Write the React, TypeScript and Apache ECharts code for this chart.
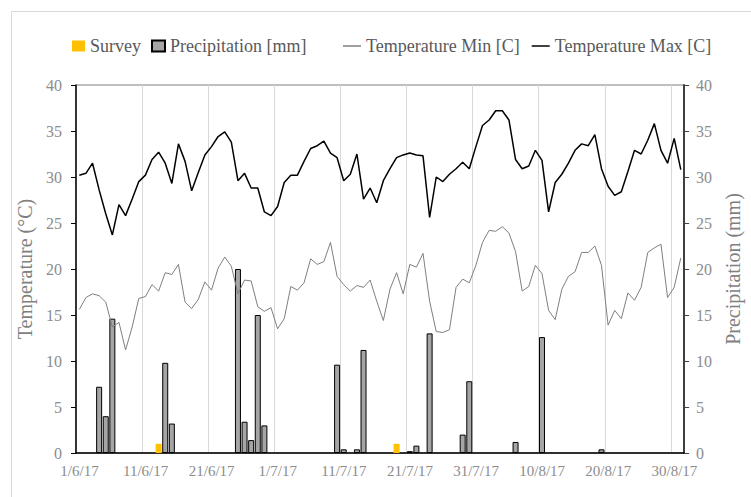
import React, { useEffect, useRef } from 'react';
import * as echarts from 'echarts';

// Daily series, 1 June 2017 to 31 August 2017 (92 days), index 0 = 1/6/17
const xTickLabels = ['1/6/17', '11/6/17', '21/6/17', '1/7/17', '11/7/17', '21/7/17', '31/7/17', '10/8/17', '20/8/17', '30/8/17'];
const dayCount = 92;

const tempMax = [
  30.2, 30.4, 31.5, 28.6, 26.0, 23.7, 27.0, 25.8, 27.6, 29.5,
  30.2, 31.9, 32.7, 31.5, 29.3, 33.6, 31.7, 28.5, 30.5, 32.4,
  33.3, 34.4, 34.9, 33.8, 29.6, 30.4, 28.8, 28.8, 26.2, 25.8,
  26.8, 29.4, 30.2, 30.2, 31.7, 33.1, 33.4, 33.9, 32.6, 32.1,
  29.6, 30.3, 32.5, 27.6, 28.8, 27.2, 29.6, 30.9, 32.1, 32.4,
  32.6, 32.4, 32.3, 25.6, 30.0, 29.5, 30.3, 30.9, 31.6, 30.9,
  33.3, 35.6, 36.2, 37.2, 37.2, 36.2, 31.9, 30.9, 31.2, 32.9,
  31.8, 26.2, 29.4, 30.3, 31.5, 32.9, 33.6, 33.4, 34.6, 30.9,
  29.0, 28.0, 28.4, 30.6, 32.9, 32.5, 34.0, 35.8, 32.9, 31.5,
  34.2, 30.8,
];

const tempMin = [
  15.6, 16.9, 17.3, 17.1, 16.4, 13.7, 14.2, 11.2, 13.7, 16.8,
  17.0, 18.3, 17.6, 19.6, 19.4, 20.5, 16.4, 15.7, 16.7, 18.6,
  17.7, 20.1, 21.3, 20.3, 17.3, 18.8, 18.7, 15.9, 15.4, 15.8,
  13.5, 14.6, 18.1, 17.7, 18.5, 21.1, 20.5, 20.8, 22.9, 19.2,
  18.3, 17.6, 18.2, 18.0, 18.8, 16.5, 14.4, 17.8, 19.6, 17.3,
  20.5, 20.2, 21.7, 16.5, 13.2, 13.1, 13.4, 18.0, 18.9, 18.5,
  20.4, 22.9, 24.2, 24.1, 24.6, 23.9, 21.9, 17.6, 18.1, 20.4,
  19.5, 15.5, 14.5, 17.8, 19.2, 19.7, 21.8, 21.8, 22.5, 20.4,
  13.9, 15.5, 14.6, 17.4, 16.6, 18.0, 21.8, 22.3, 22.7, 16.9,
  18.0, 21.2,
];

// Rainy days (day index) and their precipitation in mm
const precipDays = [3, 4, 5, 13, 14, 24, 25, 26, 27, 28, 39, 40, 42, 43, 50, 51, 53, 58, 59, 66, 70, 79];
const precipValues = [7.2, 4.0, 14.6, 9.8, 3.2, 20.0, 3.4, 1.4, 15.0, 3.0, 9.6, 0.4, 0.4, 11.2, 0.2, 0.8, 13.0, 2.0, 7.8, 1.2, 12.6, 0.4];

// Survey days
const surveyDays = [12, 48];
const surveyValues = [1, 1];

const FONT = "'Liberation Serif', 'DejaVu Serif', serif";
const LABEL_GREY = '#8c8c8c';
const TEXT_GREY = '#595959';

export default function App() {
  const ref = useRef<HTMLDivElement>(null);

  useEffect(() => {
    if (!ref.current) return;
    const chart = echarts.init(ref.current, undefined, { renderer: 'svg' });

    // each value sits in the middle of its day slot
    const atDay = (d: number) => d + 0.5;

    const axisLabel = { color: LABEL_GREY, fontFamily: FONT, fontSize: 16 };
    const legendText = { color: TEXT_GREY, fontFamily: FONT, fontSize: 18 };
    const axisTitle = { color: '#7f7f7f', fontFamily: FONT, fontSize: 20 };

    chart.setOption({
      animation: false,
      backgroundColor: '#ffffff',
      graphic: [
        {
          type: 'rect',
          left: 9,
          top: 9,
          z: -10,
          shape: { x: 0, y: 0, width: 800, height: 600 },
          style: { fill: 'none', stroke: '#d9d9d9', lineWidth: 1 },
          silent: true,
        },
      ],
      legend: [
        {
          data: ['Survey', 'Precipitation [mm]'],
          left: 67,
          top: 32,
          icon: 'rect',
          itemWidth: 13,
          itemHeight: 11,
          itemGap: 10,
          textStyle: legendText,
        },
        {
          data: ['Temperature Min [C]', 'Temperature Max [C]'],
          left: 338,
          top: 32,
          icon: 'rect',
          itemWidth: 18,
          itemHeight: 1.5,
          itemGap: 12,
          textStyle: legendText,
        },
      ],
      grid: {
        left: 76,
        right: 51,
        top: 85,
        bottom: 44,
        show: true,
        borderColor: '#7f7f7f',
        borderWidth: 1,
        backgroundColor: 'transparent',
      },
      xAxis: {
        type: 'value',
        min: 0,
        max: dayCount,
        interval: 10,
        axisLine: { lineStyle: { color: '#000', width: 1.5 } },
        axisTick: { show: false },
        splitLine: { show: true, lineStyle: { color: '#d9d9d9', width: 1 } },
        axisLabel: {
          ...axisLabel,
          fontSize: 15,
          margin: 10,
          // labels sit under the middle of the first day of each period
          padding: [0, 0, 0, 7],
          showMaxLabel: false,
          formatter: (v: number) => {
            const k = Math.round(v / 10);
            return v % 10 === 0 && k < xTickLabels.length ? xTickLabels[k] : '';
          },
        },
      },
      yAxis: [
        {
          type: 'value',
          position: 'left',
          min: 0,
          max: 40,
          interval: 5,
          name: 'Temperature (°C)',
          nameLocation: 'middle',
          nameRotate: 90,
          nameGap: 38,
          nameTextStyle: axisTitle,
          axisLine: { show: true, lineStyle: { color: '#000', width: 1.5 } },
          axisTick: { show: true, length: 5, lineStyle: { color: '#000' } },
          splitLine: { show: false },
          axisLabel: { ...axisLabel, margin: 14 },
        },
        {
          type: 'value',
          position: 'right',
          min: 0,
          max: 40,
          interval: 5,
          name: 'Precipitation (mm)',
          nameLocation: 'middle',
          nameRotate: 90,
          nameGap: 35,
          nameTextStyle: axisTitle,
          axisLine: { show: true, lineStyle: { color: '#404040', width: 2 } },
          axisTick: { show: true, length: 5, lineStyle: { color: '#404040' } },
          splitLine: { show: false },
          axisLabel: { ...axisLabel, margin: 12 },
        },
      ],
      series: [
        {
          name: 'Survey',
          type: 'bar',
          yAxisIndex: 0,
          barWidth: 6,
          barGap: '-100%',
          itemStyle: { color: '#ffc000' },
          data: surveyDays.map((d, k) => [atDay(d), surveyValues[k]]),
        },
        {
          name: 'Precipitation [mm]',
          type: 'bar',
          yAxisIndex: 1,
          barWidth: 6,
          barGap: '-100%',
          itemStyle: { color: '#a5a5a5', borderColor: '#000', borderWidth: 1 },
          data: precipDays.map((d, k) => [atDay(d), precipValues[k]]),
        },
        {
          name: 'Temperature Min [C]',
          type: 'line',
          yAxisIndex: 0,
          symbol: 'none',
          color: '#7f7f7f',
          lineStyle: { color: '#7f7f7f', width: 1 },
          data: tempMin.map((v, i) => [atDay(i), v]),
        },
        {
          name: 'Temperature Max [C]',
          type: 'line',
          yAxisIndex: 0,
          symbol: 'none',
          color: '#000',
          lineStyle: { color: '#000', width: 1.5 },
          data: tempMax.map((v, i) => [atDay(i), v]),
        },
      ],
    });

    return () => chart.dispose();
  }, []);

  return (
    <div
      ref={ref}
      style={{ position: 'absolute', left: 0, top: 0, width: 751, height: 497 }}
    />
  );
}
